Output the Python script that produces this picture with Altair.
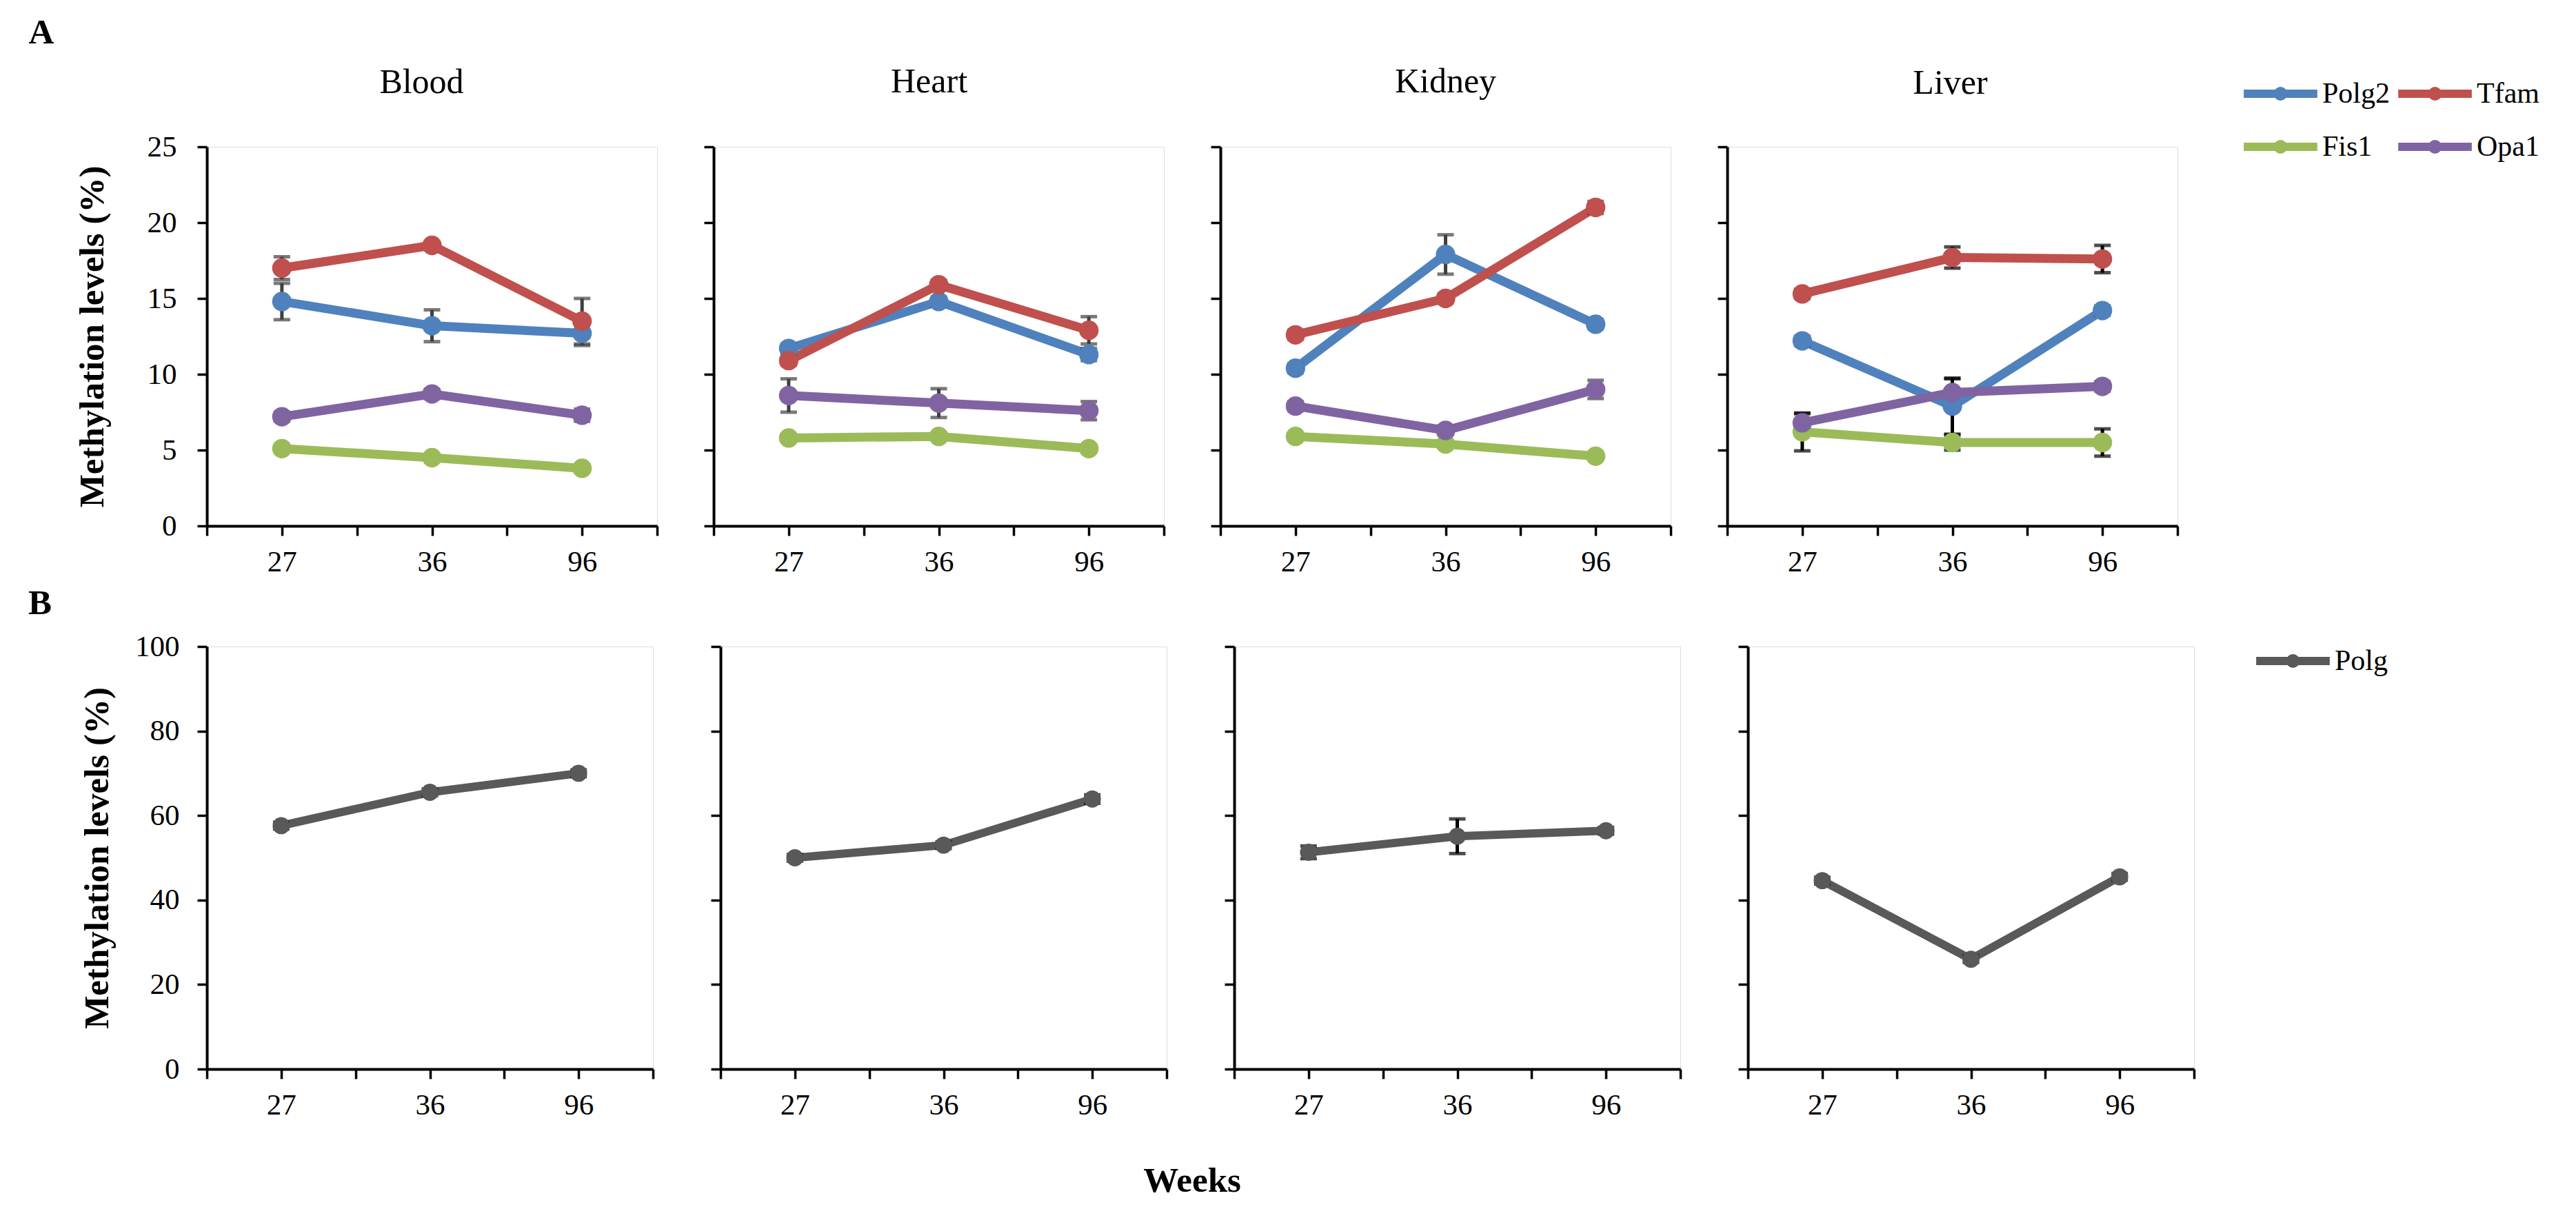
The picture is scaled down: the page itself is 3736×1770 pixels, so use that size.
import json
import altair as alt
import pandas as pd

# ---------------- data ----------------
weeks = ["27", "36", "96"]
tissues = ["Blood", "Heart", "Kidney", "Liver"]
panel_letters = ["A", "B"]

genes_a = ["Polg2", "Tfam", "Fis1", "Opa1"]
colors_a = ["#4F81BD", "#C0504D", "#9BBB59", "#8064A2"]

# Panel A: mean methylation level (%) at 27, 36, 96 weeks, and error
polg2_mean = {"Blood": [14.8, 13.2, 12.7], "Heart": [11.7, 14.8, 11.3],
              "Kidney": [10.4, 17.9, 13.3], "Liver": [12.2, 7.9, 14.2]}
polg2_err = {"Blood": [1.2, 1.05, 0.8], "Heart": [0.3, 0.3, 0.4],
             "Kidney": [0.3, 1.3, 0.3], "Liver": [0.3, 1.85, 0.3]}
tfam_mean = {"Blood": [17.0, 18.5, 13.5], "Heart": [10.9, 15.9, 12.9],
             "Kidney": [12.6, 15.0, 21.0], "Liver": [15.3, 17.7, 17.6]}
tfam_err = {"Blood": [0.75, 0.2, 1.5], "Heart": [0.3, 0.3, 0.9],
            "Kidney": [0.3, 0.3, 0.4], "Liver": [0.3, 0.7, 0.9]}
fis1_mean = {"Blood": [5.1, 4.5, 3.8], "Heart": [5.8, 5.9, 5.1],
             "Kidney": [5.9, 5.4, 4.6], "Liver": [6.2, 5.5, 5.5]}
fis1_err = {"Blood": [0.2, 0.2, 0.2], "Heart": [0.2, 0.2, 0.2],
            "Kidney": [0.2, 0.2, 0.2], "Liver": [1.25, 0.5, 0.9]}
opa1_mean = {"Blood": [7.2, 8.7, 7.3], "Heart": [8.6, 8.1, 7.6],
             "Kidney": [7.9, 6.3, 9.0], "Liver": [6.8, 8.8, 9.2]}
opa1_err = {"Blood": [0.3, 0.3, 0.4], "Heart": [1.1, 0.95, 0.6],
            "Kidney": [0.3, 0.3, 0.6], "Liver": [0.6, 0.9, 0.3]}

# Panel B
genes_b = ["Polg"]
colors_b = ["#595959"]
polg_mean = {"Blood": [57.6, 65.5, 70.0], "Heart": [50.0, 53.0, 63.9],
             "Kidney": [51.3, 55.1, 56.4], "Liver": [44.6, 26.0, 45.5]}
polg_err = {"Blood": [0.8, 0.8, 0.8], "Heart": [0.8, 0.8, 1.0],
            "Kidney": [1.5, 4.1, 0.8], "Liver": [0.8, 0.8, 0.8]}

err_colors = {"Blood": "#404040", "Heart": "#404040", "Kidney": "#404040", "Liver": "#000000"}


def build(series):
    rows = []
    for gene, means, errs in series:
        for t in tissues:
            for w, m, e in zip(weeks, means[t], errs[t]):
                rows.append({"tissue": t, "gene": gene, "week": w, "mean": m, "err": e})
    return pd.DataFrame(rows)


df_a = build([("Polg2", polg2_mean, polg2_err), ("Tfam", tfam_mean, tfam_err),
              ("Fis1", fis1_mean, fis1_err), ("Opa1", opa1_mean, opa1_err)])
df_b = build([("Polg", polg_mean, polg_err)])

# ---------------- style ----------------
FONT = "Liberation Serif"
SYMBOL = ("M-1.1,0H1.1M0.08,0A0.08,0.08 0 1,1 -0.08,0"
          "A0.08,0.08 0 1,1 0.08,0")
label_expr = " : ".join(
    [f"datum.value == {i + 0.5} ? '{w}'" for i, w in enumerate(weeks)]) + " : ''"
pos_expr = f"indexof({json.dumps(weeks)}, datum.week) + 0.5"


def make_legend(cols, lx, ly):
    return alt.Legend(title=None, columns=cols, direction="horizontal",
                      symbolType=SYMBOL, symbolSize=9409, clipHeight=42,
                      symbolStrokeWidth=12, labelFont=FONT, labelFontSize=42,
                      labelColor="black", labelOffset=6, columnPadding=10,
                      rowPadding=35, padding=0, orient="none",
                      legendX=lx, legendY=ly)


def panel(df, tissue, genes, colors, ymax, ystep, first, is_a, width, height,
          extent, lab_pad, tit_pad, line_w, pt_size, legend, title_off, title_dx,
          letter=None, letter_xy=(0, 0)):
    sub = df[df.tissue == tissue]
    base = alt.Chart(sub).transform_calculate(
        pos=pos_expr, lo="datum.mean - datum.err", hi="datum.mean + datum.err")
    xs = alt.Scale(domain=[0, 3], nice=False, zero=False)
    ys = alt.Scale(domain=[0, ymax], nice=False)
    xaxis = alt.Axis(values=[i * 0.5 for i in range(7)], labelExpr=label_expr,
                     title=None, grid=False, domainColor="black", domainWidth=4,
                     tickColor="black", tickWidth=3.5, tickSize=14,
                     labelFont=FONT, labelFontSize=43, labelColor="black",
                     labelPadding=17, labelFlush=False, labelOverlap=False)
    yargs = dict(values=list(range(0, ymax + 1, ystep)), grid=False,
                 domainColor="black", domainWidth=4, tickColor="black",
                 tickWidth=3.5, tickSize=14, labels=first)
    if first:
        yargs.update(title="Methylation levels (%)", titleFont=FONT,
                     titleFontSize=51, titleFontWeight="bold", titleColor="black",
                     titlePadding=tit_pad, labelFont=FONT, labelFontSize=43,
                     labelColor="black", labelPadding=lab_pad,
                     minExtent=extent, maxExtent=extent)
    else:
        yargs.update(title=None)
    yaxis = alt.Axis(**yargs)
    X = alt.X("pos:Q", scale=xs, axis=xaxis)
    color = alt.Color("gene:N", scale=alt.Scale(domain=genes, range=colors),
                      sort=genes, legend=legend)
    line = base.mark_line(strokeWidth=line_w, strokeJoin="round").encode(
        x=X, y=alt.Y("mean:Q", scale=ys, axis=yaxis), color=color,
        order=alt.Order("pos:Q"))
    ec = err_colors[tissue] if is_a else "#000000"
    rule = base.mark_rule(strokeWidth=5, color=ec).encode(
        x=X, y=alt.Y("lo:Q", scale=ys, axis=yaxis), y2="hi:Q")
    cap_lo = base.mark_tick(orient="horizontal", size=24, thickness=5, color=ec).encode(
        x=X, y=alt.Y("lo:Q", scale=ys, axis=yaxis))
    cap_hi = base.mark_tick(orient="horizontal", size=24, thickness=5, color=ec).encode(
        x=X, y=alt.Y("hi:Q", scale=ys, axis=yaxis))
    pts = base.mark_circle(size=pt_size, opacity=1).encode(
        x=X, y=alt.Y("mean:Q", scale=ys, axis=yaxis), color=color)
    layers = [line, rule, cap_lo, cap_hi, pts]
    if letter is not None:
        lt = alt.Chart(pd.DataFrame({"letter": [letter]})).mark_text(
            font=FONT, fontSize=51, fontWeight="bold", color="black",
            align="center", baseline="middle").encode(
            text="letter:N", x=alt.value(letter_xy[0]), y=alt.value(letter_xy[1]))
        layers.append(lt)
    ch = alt.layer(*layers).properties(width=width, height=height)
    if is_a:
        ch = ch.properties(title=alt.TitleParams(
            tissue, font=FONT, fontSize=50, fontWeight="normal", color="black",
            offset=title_off, frame="group", anchor="middle", dx=title_dx))
    return ch


title_offsets_a = {"Blood": -123, "Heart": 67, "Kidney": 67, "Liver": -31}
title_dx_a = {"Blood": -15, "Heart": -14, "Kidney": 0, "Liver": -3}

panels_a = []
for i, t in enumerate(tissues):
    leg = make_legend(2, 748, -98) if t == "Liver" else None
    panels_a.append(panel(df_a, t, genes_a, colors_a, 25, 5, i == 0, True, 653, 550,
                          87, 30, 53, 13, 800, leg, title_offsets_a[t], title_dx_a[t],
                          letter=panel_letters[0] if i == 0 else None,
                          letter_xy=(-240, -165)))

panels_b = []
for i, t in enumerate(tissues):
    leg = make_legend(1, 736, 0) if t == "Liver" else None
    panels_b.append(panel(df_b, t, genes_b, colors_b, 100, 20, i == 0, False, 647, 613,
                          104, 26, 29, 12, 620, leg, 0, 0,
                          letter=panel_letters[1] if i == 0 else None,
                          letter_xy=(-242, -62)))

row_a = alt.hconcat(*panels_a, spacing=62).resolve_scale(color="independent")
row_b = alt.hconcat(*panels_b, spacing=78).resolve_scale(color="independent")

chart = alt.vconcat(
    row_a, row_b, spacing=11,
    title=alt.TitleParams("Weeks", orient="bottom", anchor="middle", font=FONT,
                          fontSize=51, fontWeight="bold", color="black", offset=63,
                          dx=-133)
).resolve_scale(color="independent").properties(
    padding={"left": 32, "top": 13, "right": 5, "bottom": 5}
).configure_view(stroke=None).configure(background="white").configure_axis(
    labelFont=FONT, titleFont=FONT
).configure_legend(labelFont=FONT).configure_title(font=FONT)

chart.save("out.html", embed_options={"renderer": "svg", "actions": False})
